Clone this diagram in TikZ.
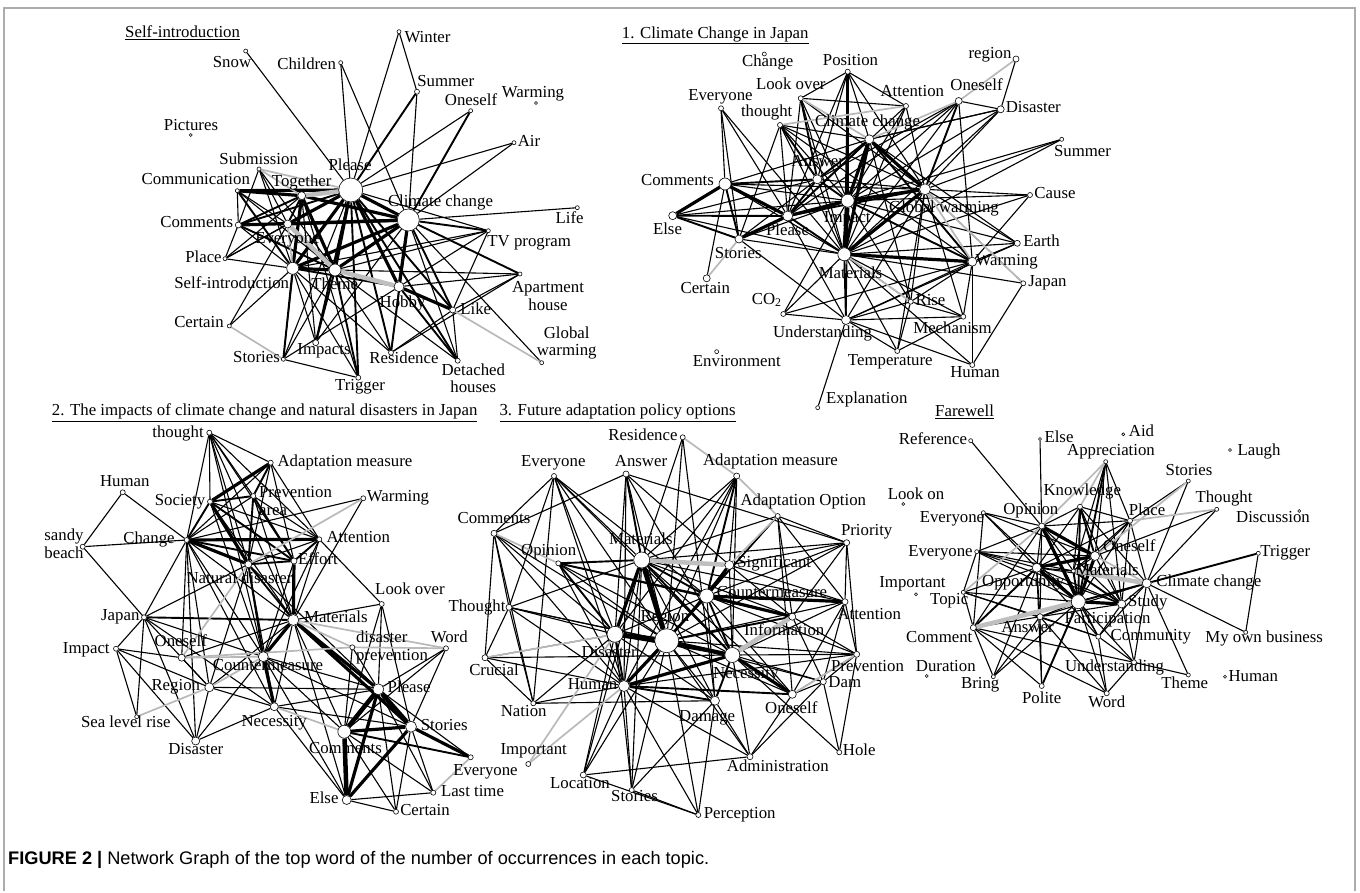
\documentclass[tikz,border=0pt]{standalone}
\usepackage{fontspec}
\setmainfont{Liberation Serif}
\newfontfamily\capf{Liberation Sans}
\pgfdeclarelayer{bg}
\pgfsetlayers{bg,main}
\newcommand\lf{\fontsize{16.8}{17.5}\selectfont}
\tikzset{
 vtx/.style={circle,draw=black,fill=white,line width=0.6pt,inner sep=0pt},
 lbl/.style={inner sep=0pt,font=\lf,text height=0.68em,text depth=0pt},
 lbltwo/.style={inner sep=0pt,font=\lf,align=center},
 lblleft/.style={inner sep=0pt,font=\lf,align=left},
 ttl/.style={inner sep=0pt,font=\lf,anchor=west},
 wt/.style={line width=1.1pt,draw=black},
 wm/.style={line width=1.9pt,draw=black},
 wh/.style={line width=3.2pt,draw=black},
 wg/.style={line width=1.7pt,draw=gray!55},
 wgh/.style={line width=4.5pt,draw=gray!50},
}
\newcommand\V[7]{\node[vtx,minimum size=#4pt] (#1) at (#2,#3) {};\node[lbl] (#1-l) at (#5,#6) {#7};}
\newcommand\VV[8]{\node[vtx,minimum size=#4pt] (#1) at (#2,#3) {};\node[#8] (#1-l) at (#5,#6) {#7};}
\begin{document}
\begin{tikzpicture}[x=1pt,y=-1pt]
\useasboundingbox (0,0) rectangle (1360,893);
\draw[gray!65,line width=1.3pt] (4,891) -- (4,8) -- (1355,8) -- (1355,891);
% ---------- titles
\node[ttl] (t1) at (125,33) {\underline{Self-introduction}};
\node[ttl] (t2) at (621.7,35) {\underline{1. Climate Change in Japan}};
\node[ttl] (t3) at (51.7,412.7) {\underline{2. The impacts of climate change and natural disasters in Japan}};
\node[ttl] (t4) at (499.3,412.7) {\underline{3. Future adaptation policy options}};
\node[ttl] (t5) at (935,411.7) {\underline{Farewell}};
\node[inner sep=0pt,anchor=west,font=\capf\fontsize{18.2}{20}\selectfont] (cap) at (8,860) {\textbf{FIGURE 2 |} Network Graph of the top word of the number of occurrences in each topic.};
% ---------- panel 1
\V{aSnow}{245.7}{51}{4}{232}{64.3}{Snow}
\V{aChildren}{340.7}{62.7}{4}{306.7}{66}{Children}
\V{aWinter}{399}{31.7}{4}{427.5}{39}{Winter}
\V{aSummer}{417}{91.7}{5}{445.8}{83}{Summer}
\V{aOneself}{470.7}{110.7}{4}{471}{101.7}{Oneself}
\V{aWarming}{536}{103}{3}{533}{94}{Warming}
\V{aAir}{514}{142.7}{4}{529}{143}{Air}
\V{aPictures}{190.7}{135}{3}{191}{127}{Pictures}
\V{aSubmission}{259}{169}{4}{258.7}{161}{Submission}
\V{aCommunication}{237.3}{190.7}{4}{195.8}{181}{Communication}
\V{aPlease}{350.7}{190}{24}{350}{166.7}{Please}
\V{aTogether}{301.7}{195.7}{8}{301.7}{182.7}{Together}
\V{aCC}{408.3}{220}{22}{440.5}{202.7}{Climate change}
\V{aComments}{238.3}{225}{6}{196.7}{224}{Comments}
\V{aEveryone}{287.7}{224}{8}{287.5}{240}{Everyone}
\V{aLife}{577.3}{207.7}{4}{569.7}{220}{Life}
\V{aTV}{488.3}{230.7}{4}{529.2}{243}{TV program}
\V{aPlace}{225}{258.7}{4}{203.5}{259}{Place}
\V{aSelf}{292.7}{268.3}{12}{231.7}{285}{Self-introduction}
\V{aTheme}{335}{270}{12}{334.8}{285.7}{Theme}
\VV{aApt}{520}{274}{4}{548}{296}{Apartment\\house}{lbltwo}
\V{aHobby}{399}{286.7}{10}{402.5}{304}{Hobby}
\V{aLike}{452.7}{310}{6}{475.8}{311}{Like}
\V{aCertain}{229.3}{326}{4}{199}{324}{Certain}
\VV{aGW}{541.7}{362.7}{4}{566.7}{343}{Global\\warming}{lbltwo}
\V{aImpacts}{315.7}{342.7}{6}{324}{351}{Impacts}
\V{aStories}{283.3}{359.3}{4}{256.5}{359}{Stories}
\V{aResidence}{391}{352.7}{5}{404}{360}{Residence}
\V{aTrigger}{358.3}{377.7}{5}{360}{386.7}{Trigger}
\VV{aDetached}{457.7}{360.7}{5}{473.3}{378.3}{Detached\\houses}{lbltwo}
% ---------- panel 2
\V{bChange}{764.3}{54}{4}{767.7}{63.3}{Change}
\V{bPosition}{847.7}{71.7}{5}{850.5}{61.7}{Position}
\V{bRegion}{1016}{59}{6}{990}{55}{region}
\V{bLookover}{800.7}{98.3}{5}{790.8}{86}{Look over}
\V{bAttention}{906}{106}{5}{912.3}{93.3}{Attention}
\V{bOneself}{958.7}{101}{7}{976.5}{86.7}{Oneself}
\V{bDisaster}{1000.7}{109.3}{7}{1033.3}{109.3}{Disaster}
\V{bEveryone}{721}{108.3}{5}{720.5}{97.3}{Everyone}
\V{bThought}{780}{125}{5}{766.7}{113.3}{thought}
\V{bCC}{869.3}{139.3}{9}{867.5}{123.3}{Climate change}
\V{bSummer}{1061.7}{139.3}{4}{1082.5}{152.7}{Summer}
\V{bAnswer}{817.3}{179.3}{9}{817.8}{163.3}{Answer}
\V{bComments}{725}{184}{12}{677.5}{182.3}{Comments}
\V{bImpact}{847.7}{200.7}{13}{847.3}{219.3}{Impact}
\V{bGW}{925}{189.3}{11}{944}{209}{Global warming}
\V{bCause}{1030}{195}{5}{1055}{195}{Cause}
\V{bElse}{672.7}{215.7}{8}{667.5}{231}{Else}
\V{bPlease}{787.7}{216}{10}{787.5}{232.3}{Please}
\V{bStories}{739}{239}{8}{738.3}{255}{Stories}
\V{bEarth}{1017.3}{243.3}{6}{1041.5}{243.3}{Earth}
\V{bMaterials}{844.3}{254.3}{13}{850.5}{275}{Materials}
\V{bWarming}{972.3}{261.7}{9}{1006.7}{262}{Warming}
\V{bJapan}{1023.3}{283.3}{5}{1047.5}{283}{Japan}
\V{bCertain}{706.7}{278.3}{7}{705.3}{290}{Certain}
\V{bCO2}{783.3}{314}{5}{766.7}{301}{CO\textsubscript{2}}
\V{bRise}{910.7}{301.7}{5}{930.5}{301.7}{Rise}
\V{bUnder}{846}{320}{9}{822.5}{334.3}{Understanding}
\V{bMech}{963.3}{316.7}{5}{952.5}{330}{Mechanism}
\V{bTemp}{897.3}{351}{5}{890.3}{361.7}{Temperature}
\V{bHuman}{972.3}{365}{5}{975}{374}{Human}
\V{bEnv}{716.7}{351.7}{4}{736.8}{362.7}{Environment}
\V{bExpl}{817.7}{407.7}{4}{866.8}{400}{Explanation}
% ---------- panel 3
\V{cThought}{209.3}{432.7}{5}{178}{434}{thought}
\V{cAdapt}{270.7}{462.7}{5}{345}{462.7}{Adaptation measure}
\V{cHuman}{122.7}{492.3}{5}{124.8}{483.3}{Human}
\V{cSociety}{210}{501.7}{5}{180}{501.7}{Society}
\VV{cPrevA}{253.3}{496}{5}{295.5}{501}{Prevention\\area}{lblleft}
\V{cWarming}{363.3}{498.3}{5}{398}{498}{Warming}
\VV{cSandy}{82.7}{546.7}{5}{64}{544}{sandy\\beach}{lblleft}
\V{cChange}{186.7}{540}{5}{149}{540}{Change}
\V{cAttention}{319.3}{539.3}{5}{358.3}{539}{Attention}
\V{cEffort}{294}{561}{6}{318}{561}{Effort}
\V{cND}{248.3}{564.3}{7}{239.5}{580}{Natural disaster}
\V{cLookover}{381.7}{604}{5}{410}{590.7}{Look over}
\V{cJapan}{144}{617.3}{5}{120.3}{617.3}{Japan}
\V{cMaterials}{293.3}{620}{11}{335.8}{619.3}{Materials}
\V{cImpact}{116}{648.7}{5}{86.3}{650}{Impact}
\V{cOneself}{181.7}{657.7}{7}{180.8}{643.3}{Oneself}
\VV{cDisPrev}{352.3}{647.3}{5}{392}{647.5}{disaster\\prevention}{lblleft}
\V{cWord}{446}{648.3}{5}{449.2}{639.3}{Word}
\V{cCounter}{263.3}{656.7}{10}{268}{667.3}{Countermeasure}
\V{cRegion}{209.3}{687.3}{9}{175.8}{687.3}{Region}
\V{cPlease}{378.3}{689.3}{11}{409.2}{689.3}{Please}
\V{cNecessity}{274.3}{706.7}{8}{274.2}{723.3}{Necessity}
\V{cSLR}{136.7}{716.7}{4}{125.8}{724.3}{Sea level rise}
\V{cComments}{344.3}{731.7}{13}{345.5}{750}{Comments}
\V{cStories}{411}{726.7}{11}{444.2}{726.7}{Stories}
\V{cDisaster}{195.7}{741}{8}{195.8}{751}{Disaster}
\V{cEveryone}{470.7}{757.3}{5}{485.5}{772}{Everyone}
\V{cLast}{433.3}{792.7}{5}{472.5}{792.7}{Last time}
\V{cElse}{346.7}{800}{9}{324}{800}{Else}
\V{cCertain}{396}{811.7}{5}{425}{811.7}{Certain}
% ---------- panel 4
\V{dResidence}{682.7}{437.3}{5}{643}{436.7}{Residence}
\V{dEveryone}{554}{476}{5}{553.3}{463.3}{Everyone}
\V{dAnswer}{626}{474}{6}{641}{463.3}{Answer}
\V{dAdapt}{736.7}{476}{6}{770.5}{461.7}{Adaptation measure}
\V{dAdOpt}{777.7}{516}{5}{803.3}{501.7}{Adaptation Option}
\V{dComments}{494}{533.3}{6}{494}{520}{Comments}
\V{dPriority}{846.7}{542.7}{6}{866.7}{531.7}{Priority}
\V{dMaterials}{641.7}{560}{16}{640.8}{540.7}{Materials}
\V{dOpinion}{558.3}{563.3}{5}{548.7}{551.7}{Opinion}
\V{dSignif}{729.3}{565}{9}{774.2}{564}{Significant}
\V{dCounter}{706.7}{596}{14}{772}{594}{Countermeasure}
\V{dAttention}{845}{601.7}{6}{869.2}{616}{Attention}
\V{dThought}{509}{607.3}{6}{477}{608}{Thought}
\V{dRegion}{666.7}{640.7}{24}{665}{618.3}{Region}
\V{dInfo}{792.3}{616.7}{7}{784.2}{632.3}{Information}
\V{dDisaster}{615}{634.3}{16}{609.2}{654}{Disaster}
\V{dNecessity}{732.3}{655}{15}{745.8}{675}{Necessity}
\V{dPrevention}{856.7}{654.3}{6}{867.5}{668}{Prevention}
\V{dCrucial}{485}{657.7}{6}{494}{672}{Crucial}
\V{dHuman}{624}{686}{11}{592.5}{686}{Human}
\V{dDam}{823.3}{681.7}{6}{844.8}{684}{Dam}
\V{dOneself}{792.3}{694.3}{8}{791.3}{710}{Oneself}
\V{dNation}{533.3}{703.3}{5}{523.7}{713.3}{Nation}
\V{dDamage}{715}{700.7}{9}{707.2}{718.3}{Damage}
\V{dImportant}{528.3}{764}{5}{533.7}{750.7}{Important}
\V{dHole}{839.3}{752.3}{5}{859.2}{752.3}{Hole}
\V{dAdmin}{750}{756.7}{6}{777.8}{768.3}{Administration}
\V{dLocation}{583.3}{775}{6}{580}{785}{Location}
\V{dStories}{631.7}{790}{5}{634.5}{798.3}{Stories}
\V{dPerception}{698.3}{815}{5}{739.7}{815}{Perception}
% ---------- panel 5
\V{eReference}{970.7}{440.7}{4}{933}{441}{Reference}
\V{eElse}{1040}{439}{3}{1059}{439}{Else}
\V{eAid}{1123.3}{434.3}{3}{1141.5}{433}{Aid}
\V{eAppr}{1105.7}{461.7}{4}{1111}{452.3}{Appreciation}
\V{eLaugh}{1230}{450}{3}{1259}{451.7}{Laugh}
\V{eStories}{1188.3}{481}{4}{1189}{471.7}{Stories}
\V{eKnowledge}{1080}{506.7}{5}{1082.3}{492.3}{Knowledge}
\V{eLookon}{903.3}{504}{3}{916}{496}{Look on}
\V{eThought}{1216.7}{509.3}{4}{1224}{499}{Thought}
\V{eDisc}{1299.3}{511}{3}{1273}{518.7}{Discussion}
\V{eOpinion}{1041.7}{526}{6}{1030.8}{511}{Opinion}
\V{ePlace}{1130}{520.7}{5}{1147}{512.3}{Place}
\V{eEv1}{983.3}{512.7}{4}{952}{519}{Everyone}
\V{eOneself}{1095}{556}{9}{1129.3}{548.3}{Oneself}
\V{eEv2}{976.7}{551.7}{4}{940.5}{553}{Everyone}
\V{eTrigger}{1258.3}{553.3}{4}{1285.3}{553.3}{Trigger}
\V{eOpp}{1036.7}{567.7}{9}{1023.3}{583.3}{Opportunity}
\V{eMaterials}{1073.3}{571}{4}{1107}{572}{Materials}
\V{eCC}{1146.7}{583.3}{9}{1208.8}{583.3}{Climate change}
\V{eImportant}{916}{594.3}{3}{912.5}{584.3}{Important}
\V{eTopic}{963.3}{592.3}{4}{949.2}{601}{Topic}
\V{ePart}{1078.3}{601.7}{14}{1107.5}{620}{Participation}
\V{eStudy}{1121.7}{604}{8}{1147.8}{603}{Study}
\V{eAnswer}{1040}{616.7}{6}{1027.5}{629}{Answer}
\V{eComment}{973.3}{627.7}{6}{939.2}{639}{Comment}
\V{eCommunity}{1098.3}{636.7}{5}{1150.8}{636.7}{Community}
\V{eMyown}{1245.7}{632.3}{4}{1264.2}{639.3}{My own business}
\V{eDuration}{926.7}{676}{3}{945.8}{668.3}{Duration}
\V{eUnder}{1134}{662.3}{5}{1114.5}{668.3}{Understanding}
\V{eTheme}{1188.3}{675}{4}{1184.7}{685.3}{Theme}
\V{eHuman}{1225}{676.7}{3}{1253.3}{678}{Human}
\V{eBring}{993.3}{676.7}{4}{980.2}{685}{Bring}
\V{ePolite}{1041.7}{686}{5}{1041.7}{700}{Polite}
\V{eWord}{1106.7}{693.3}{5}{1106.7}{704.3}{Word}
% ---------- edges
\begin{pgfonlayer}{bg}
% panel 1
\foreach \a/\b in {aSnow/aPlease,aChildren/aPlease,aChildren/aCC,aWinter/aPlease,aWinter/aSummer,aSummer/aCC,aOneself/aPlease,aAir/aPlease,aAir/aCC,aLife/aCC,aTV/aSelf,aTV/aTheme,aTV/aHobby,aTV/aLike,aApt/aTheme,aApt/aHobby,aApt/aLike,aApt/aResidence,aGW/aCC,aLike/aResidence,aLike/aDetached,aDetached/aCC,aDetached/aTheme,aResidence/aSelf,aResidence/aTheme,aTrigger/aSelf,aTrigger/aTogether,aTrigger/aStories,aStories/aTheme,aStories/aTogether,aStories/aHobby,aImpacts/aSelf,aImpacts/aTogether,aCertain/aSelf,aCertain/aEveryone,aPlace/aSelf,aPlace/aEveryone,aPlace/aTogether,aPlace/aComments,aComments/aEveryone,aComments/aSelf,aCommunication/aEveryone,aCommunication/aComments,aSubmission/aEveryone,aSubmission/aSelf,aSubmission/aComments,aSubmission/aTheme,aCommunication/aTheme,aTV/aPlease,aResidence/aHobby,aImpacts/aCC,aStories/aPlease,aPlace/aPlease}
  \draw[wt] (\a) -- (\b);
\foreach \a/\b in {aSummer/aPlease,aOneself/aCC,aTV/aCC,aApt/aCC,aLike/aPlease,aDetached/aPlease,aDetached/aHobby,aResidence/aPlease,aResidence/aCC,aTrigger/aTheme,aTrigger/aPlease,aStories/aSelf,aImpacts/aTheme,aImpacts/aPlease,aComments/aTogether,aComments/aPlease,aComments/aTheme,aCommunication/aSelf,aTogether/aEveryone,aSelf/aHobby,aLike/aCC}
  \draw[wm] (\a) -- (\b);
\foreach \a/\b in {aCommunication/aTogether,aCommunication/aPlease,aComments/aCC,aPlease/aCC,aPlease/aEveryone,aPlease/aSelf,aPlease/aTheme,aPlease/aHobby,aCC/aTheme,aCC/aSelf,aCC/aEveryone,aCC/aTogether,aCC/aHobby,aTogether/aSelf,aTogether/aTheme,aSelf/aTheme,aLike/aHobby}
  \draw[wh] (\a) -- (\b);
\foreach \a/\b in {aSubmission/aTogether,aSubmission/aPlease,aEveryone/aSelf,aGW/aLike,aCertain/aStories}
  \draw[wg] (\a) -- (\b);
\foreach \a/\b in {aPlease/aTogether,aEveryone/aTheme,aTheme/aHobby}
  \draw[wgh] (\a) -- (\b);
% panel 2
\foreach \a/\b in {bPosition/bLookover,bPosition/bAttention,bPosition/bCC,bPosition/bAnswer,bPosition/bGW,bPosition/bPlease,bPosition/bMaterials,bLookover/bAttention,bLookover/bImpact,bLookover/bMaterials,bLookover/bGW,bLookover/bPlease,bAttention/bMaterials,bAttention/bImpact,bAttention/bPlease,bAttention/bGW,bRegion/bDisaster,bOneself/bDisaster,bOneself/bImpact,bOneself/bMaterials,bOneself/bAnswer,bOneself/bWarming,bOneself/bPlease,bDisaster/bGW,bDisaster/bImpact,bDisaster/bMaterials,bDisaster/bCC,bEveryone/bComments,bEveryone/bStories,bEveryone/bPlease,bEveryone/bMaterials,bThought/bCC,bThought/bImpact,bThought/bMaterials,bThought/bGW,bThought/bPlease,bThought/bStories,bThought/bWarming,bCC/bComments,bCC/bRise,bCC/bEarth,bSummer/bGW,bSummer/bImpact,bSummer/bMaterials,bAnswer/bMaterials,bAnswer/bStories,bAnswer/bElse,bAnswer/bGW,bComments/bImpact,bComments/bMaterials,bComments/bGW,bComments/bCertain,bImpact/bElse,bImpact/bStories,bImpact/bEarth,bImpact/bCause,bImpact/bCO2,bImpact/bRise,bImpact/bUnder,bGW/bCause,bGW/bEarth,bGW/bRise,bGW/bMech,bGW/bJapan,bGW/bTemp,bGW/bUnder,bCause/bMaterials,bCause/bWarming,bElse/bMaterials,bPlease/bUnder,bStories/bMaterials,bStories/bUnder,bEarth/bMaterials,bEarth/bWarming,bEarth/bUnder,bMaterials/bJapan,bMaterials/bRise,bMaterials/bMech,bMaterials/bTemp,bMaterials/bCO2,bMaterials/bHuman,bWarming/bRise,bWarming/bMech,bWarming/bHuman,bWarming/bUnder,bWarming/bCO2,bJapan/bHuman,bCO2/bUnder,bRise/bUnder,bRise/bTemp,bRise/bMech,bUnder/bMech,bUnder/bTemp,bUnder/bExpl,bUnder/bHuman,bMech/bTemp,bCC/bDisaster}
  \draw[wt] (\a) -- (\b);
\foreach \a/\b in {bLookover/bAnswer,bThought/bAnswer,bCC/bAnswer,bCC/bPlease,bAnswer/bImpact,bGW/bPlease,bComments/bAnswer,bAnswer/bPlease,bMaterials/bUnder,bCC/bWarming,bOneself/bGW,bElse/bPlease,bElse/bStories,bPlease/bMaterials,bComments/bStories,bImpact/bWarming}
  \draw[wm] (\a) -- (\b);
\foreach \a/\b in {bPosition/bImpact,bCC/bImpact,bCC/bMaterials,bCC/bGW,bComments/bElse,bComments/bPlease,bImpact/bGW,bImpact/bPlease,bGW/bMaterials,bMaterials/bWarming,bPlease/bStories}
  \draw[wh] (\a) -- (\b);
\draw[line width=4.5pt] (bImpact) -- (bMaterials);
\foreach \a/\b in {bRegion/bOneself,bOneself/bCC,bLookover/bCC,bAttention/bThought,bStories/bCertain,bGW/bWarming,bMaterials/bRise,bGW/bJapan}
  \draw[wg] (\a) -- (\b);
% panel 3
\foreach \a/\b in {cThought/cChange,cThought/cAdapt,cThought/cSociety,cThought/cPrevA,cThought/cND,cThought/cEffort,cThought/cMaterials,cThought/cAttention,cThought/cCounter,cAdapt/cND,cAdapt/cEffort,cAdapt/cAttention,cAdapt/cChange,cHuman/cSandy,cHuman/cChange,cSandy/cChange,cSandy/cJapan,cSociety/cAttention,cSociety/cCounter,cSociety/cMaterials,cPrevA/cAttention,cPrevA/cChange,cPrevA/cMaterials,cWarming/cChange,cWarming/cMaterials,cChange/cJapan,cChange/cMaterials,cChange/cCounter,cChange/cRegion,cChange/cOneself,cChange/cDisaster,cChange/cNecessity,cAttention/cND,cAttention/cMaterials,cAttention/cLookover,cAttention/cCounter,cEffort/cCounter,cND/cJapan,cND/cRegion,cND/cNecessity,cND/cPlease,cLookover/cMaterials,cLookover/cPlease,cLookover/cComments,cLookover/cStories,cJapan/cImpact,cJapan/cCounter,cJapan/cRegion,cJapan/cDisaster,cJapan/cNecessity,cJapan/cSLR,cMaterials/cOneself,cMaterials/cRegion,cMaterials/cComments,cMaterials/cNecessity,cMaterials/cElse,cImpact/cOneself,cImpact/cRegion,cImpact/cSLR,cImpact/cDisaster,cOneself/cRegion,cDisPrev/cPlease,cDisPrev/cComments,cWord/cPlease,cWord/cStories,cWord/cComments,cCounter/cPlease,cCounter/cStories,cCounter/cComments,cCounter/cElse,cCounter/cDisaster,cRegion/cDisaster,cRegion/cNecessity,cRegion/cPlease,cPlease/cLast,cPlease/cCertain,cPlease/cEveryone,cNecessity/cStories,cNecessity/cDisaster,cNecessity/cPlease,cNecessity/cElse,cComments/cLast,cComments/cCertain,cStories/cLast,cStories/cCertain,cElse/cLast,cElse/cCertain}
  \draw[wt] (\a) -- (\b);
\foreach \a/\b in {cAdapt/cPrevA,cSociety/cPrevA,cSociety/cEffort,cSociety/cChange,cPrevA/cND,cPrevA/cEffort,cChange/cEffort,cAttention/cEffort,cEffort/cND,cND/cMaterials,cND/cCounter,cJapan/cMaterials,cComments/cEveryone}
  \draw[wm] (\a) -- (\b);
\foreach \a/\b in {cAdapt/cSociety,cSociety/cND,cChange/cAttention,cChange/cND,cEffort/cMaterials,cMaterials/cCounter,cMaterials/cPlease,cMaterials/cStories,cCounter/cNecessity,cPlease/cElse,cStories/cElse,cStories/cEveryone,cComments/cStories}
  \draw[wh] (\a) -- (\b);
\foreach \a/\b in {cPlease/cComments,cPlease/cStories,cComments/cElse}
  \draw[line width=4.5pt] (\a) -- (\b);
\foreach \a/\b in {cWarming/cND,cOneself/cCounter,cOneself/cDisPrev,cMaterials/cDisPrev,cDisPrev/cWord,cCounter/cRegion,cRegion/cSLR,cNecessity/cComments,cEveryone/cLast,cND/cOneself,cMaterials/cWord}
  \draw[wg] (\a) -- (\b);
% panel 4
\foreach \a/\b in {dResidence/dRegion,dResidence/dDamage,dEveryone/dComments,dEveryone/dMaterials,dEveryone/dDisaster,dEveryone/dRegion,dEveryone/dHuman,dEveryone/dThought,dEveryone/dNecessity,dEveryone/dCounter,dEveryone/dNation,dAnswer/dComments,dAnswer/dRegion,dAnswer/dDisaster,dAnswer/dPriority,dAnswer/dNecessity,dAnswer/dHuman,dAnswer/dSignif,dAdapt/dRegion,dAdapt/dMaterials,dAdapt/dNecessity,dAdapt/dDisaster,dAdapt/dHuman,dAdapt/dSignif,dAdOpt/dPriority,dAdOpt/dRegion,dAdOpt/dCounter,dAdOpt/dInfo,dAdOpt/dAttention,dAdOpt/dHuman,dAdOpt/dMaterials,dAdOpt/dOneself,dComments/dThought,dComments/dCrucial,dComments/dDisaster,dComments/dRegion,dComments/dHuman,dComments/dNation,dPriority/dSignif,dPriority/dCounter,dPriority/dAttention,dPriority/dPrevention,dPriority/dRegion,dPriority/dMaterials,dPriority/dInfo,dMaterials/dHuman,dMaterials/dDamage,dMaterials/dInfo,dMaterials/dAttention,dMaterials/dOneself,dMaterials/dLocation,dMaterials/dStories,dOpinion/dRegion,dOpinion/dNecessity,dOpinion/dHuman,dOpinion/dInfo,dSignif/dRegion,dSignif/dInfo,dSignif/dAttention,dSignif/dNecessity,dCounter/dDisaster,dCounter/dHuman,dCounter/dDamage,dCounter/dOneself,dCounter/dPrevention,dAttention/dRegion,dAttention/dPrevention,dAttention/dDam,dAttention/dNecessity,dAttention/dOneself,dThought/dRegion,dThought/dDisaster,dThought/dHuman,dThought/dCrucial,dThought/dNation,dThought/dNecessity,dThought/dMaterials,dRegion/dDamage,dRegion/dDam,dRegion/dOneself,dRegion/dPrevention,dRegion/dLocation,dRegion/dStories,dRegion/dPerception,dRegion/dAdmin,dInfo/dPrevention,dInfo/dDam,dDisaster/dDamage,dDisaster/dCrucial,dDisaster/dNation,dDisaster/dLocation,dDisaster/dStories,dNecessity/dDam,dNecessity/dPrevention,dNecessity/dAdmin,dNecessity/dHole,dPrevention/dDam,dPrevention/dOneself,dPrevention/dHole,dPrevention/dHuman,dCrucial/dHuman,dCrucial/dNation,dCrucial/dNecessity,dHuman/dNation,dHuman/dAdmin,dHuman/dLocation,dHuman/dStories,dHuman/dPerception,dDam/dOneself,dDam/dHole,dDam/dAdmin,dOneself/dAdmin,dNation/dDamage,dDamage/dAdmin,dDamage/dPerception,dDamage/dStories,dAdmin/dLocation,dLocation/dPerception,dStories/dPerception,dResidence/dMaterials}
  \draw[wt] (\a) -- (\b);
\foreach \a/\b in {dAdapt/dCounter,dAnswer/dMaterials,dMaterials/dOpinion,dMaterials/dSignif,dMaterials/dCounter,dMaterials/dNecessity,dOpinion/dDisaster,dOpinion/dCounter,dCounter/dRegion,dCounter/dNecessity,dRegion/dInfo,dDisaster/dHuman,dHuman/dDamage,dHuman/dOneself,dNecessity/dDamage}
  \draw[wm] (\a) -- (\b);
\foreach \a/\b in {dMaterials/dDisaster,dSignif/dCounter,dCounter/dInfo,dCounter/dAttention,dRegion/dNecessity,dRegion/dHuman,dDisaster/dNecessity,dHuman/dNecessity,dNecessity/dOneself}
  \draw[wh] (\a) -- (\b);
\foreach \a/\b in {dMaterials/dRegion,dRegion/dDisaster}
  \draw[line width=5pt] (\a) -- (\b);
\foreach \a/\b in {dResidence/dAdapt,dAdapt/dAdOpt,dComments/dOpinion,dHuman/dImportant,dDisaster/dImportant,dCrucial/dDisaster,dSignif/dAdOpt,dPrevention/dOneself}
  \draw[wg] (\a) -- (\b);
\foreach \a/\b in {dInfo/dNecessity,dMaterials/dSignif}
  \draw[wgh] (\a) -- (\b);
% panel 5
\foreach \a/\b in {eReference/eOpinion,eElse/eOpinion,eAppr/eOneself,eAppr/eMaterials,eAppr/ePlace,eAppr/eStudy,eStories/eCC,eStories/ePlace,eKnowledge/eOpinion,eKnowledge/ePlace,eKnowledge/eMaterials,eKnowledge/eOpp,eKnowledge/eStudy,eKnowledge/eCC,eThought/eCC,eThought/eOneself,eOpinion/eEv1,eOpinion/eEv2,eOpinion/eOpp,eOpinion/eMaterials,eOpinion/ePlace,eOpinion/eStudy,eOpinion/eAnswer,eOpinion/eComment,eOpinion/eCommunity,ePlace/eOneself,ePlace/ePart,ePlace/eMaterials,ePlace/eCC,ePlace/eStudy,ePlace/eOpp,eEv1/eOpp,eEv1/ePart,eEv1/eOneself,eEv1/eComment,eOneself/eOpp,eOneself/eStudy,eOneself/eMaterials,eEv2/eOpp,eEv2/ePart,eEv2/eMaterials,eEv2/eStudy,eEv2/eOneself,eEv2/eTopic,eTrigger/eMyown,eMyown/eCC,eOpp/eMaterials,eOpp/eTopic,eOpp/eAnswer,eOpp/eStudy,eOpp/eCC,eOpp/eCommunity,eOpp/ePolite,eCC/eStudy,eCC/eAnswer,eCC/eCommunity,eCC/eTheme,eCC/eUnder,eTopic/eComment,eTopic/ePart,eTopic/eAnswer,eTopic/eCommunity,ePart/eAnswer,ePart/eCommunity,ePart/eUnder,ePart/eWord,ePart/eBring,eStudy/eCommunity,eStudy/eUnder,eStudy/eAnswer,eAnswer/eComment,eAnswer/ePolite,eAnswer/eBring,eAnswer/eWord,eAnswer/eCommunity,eComment/eBring,eComment/ePolite,eComment/eWord,eComment/eUnder,eCommunity/eUnder,eCommunity/eWord,eUnder/eWord,eUnder/eTheme,eBring/eOpp}
  \draw[wt] (\a) -- (\b);
\foreach \a/\b in {eKnowledge/ePart,eKnowledge/eOneself,eTrigger/eCC,eAppr/ePart,eOpp/eComment,eCC/ePart,ePart/ePolite,ePart/eMaterials,eMaterials/eStudy}
  \draw[wm] (\a) -- (\b);
\foreach \a/\b in {eOpinion/eOneself,eOpinion/ePart,eOpp/ePart,ePart/eStudy,eOneself/ePart,eOpp/eOneself}
  \draw[wh] (\a) -- (\b);
\foreach \a/\b in {eAppr/eOpinion,eAppr/eKnowledge,eStories/eOneself,eThought/ePlace,eOneself/eCC,eTopic/eOpinion}
  \draw[wg] (\a) -- (\b);
\foreach \a/\b in {eMaterials/eCC,eComment/ePart}
  \draw[wgh] (\a) -- (\b);
\end{pgfonlayer}
\end{tikzpicture}
\end{document}
